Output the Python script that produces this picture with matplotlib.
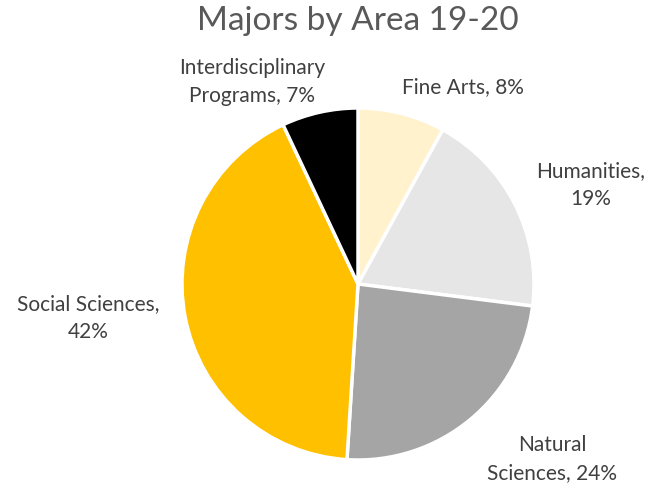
import matplotlib
matplotlib.use('Agg')
import matplotlib.pyplot as plt

areas = ['Fine Arts', 'Humanities', 'Natural Sciences', 'Social Sciences',
         'Interdisciplinary Programs']
shares = [8, 19, 24, 42, 7]
colors = ['#FFF2CC', '#E7E6E6', '#A5A5A5', '#FFC000', '#000000']
label_texts = ['Fine Arts, 8%', 'Humanities,\n19%', 'Natural\nSciences, 24%',
               'Social Sciences,\n42%', 'Interdisciplinary\nPrograms, 7%']

W, H = 652, 488
plt.rcParams['font.family'] = ['Lato', 'DejaVu Sans']

fig = plt.figure(figsize=(W / 100, H / 100), dpi=100)

# pie centre and radius in pixels
cx, cy, r = 358, 284, 176
ax = fig.add_axes([(cx - r) / W, 1 - (cy + r) / H, 2 * r / W, 2 * r / H])
ax.pie(shares, colors=colors, startangle=90, counterclock=False,
       wedgeprops=dict(edgecolor='white', linewidth=2.5))
ax.set_xlim(-1, 1)
ax.set_ylim(-1, 1)
ax.set_aspect('equal')
ax.axis('off')

# label centres (pixels), Excel best-fit placement
label_pos = [(463, 87), (591, 185), (552, 459), (88, 318), (252, 82)]
for text, (x, y) in zip(label_texts, label_pos):
    fig.text(x / W, 1 - y / H, text, ha='center', va='center',
             fontsize=15, color='#404040', linespacing=1.45)

fig.text(358 / W, 1 - 21 / H, 'Majors by Area 19-20', ha='center', va='center',
         fontsize=24, color='#595959')

fig.savefig('out.png', dpi=100)
